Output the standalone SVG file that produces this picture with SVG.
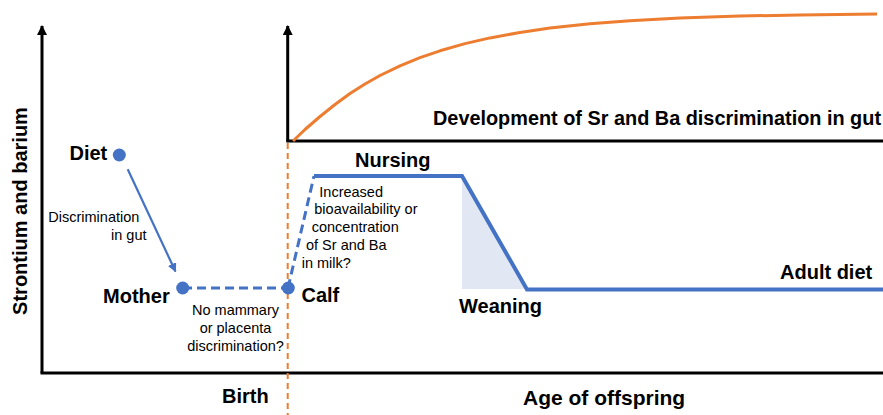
<svg xmlns="http://www.w3.org/2000/svg" width="883" height="415" viewBox="0 0 883 415">
<defs>
<style>
.b{font-family:"Liberation Sans",Arial,sans-serif;font-weight:bold;font-size:20px;fill:#000}
.n{font-family:"Liberation Sans",Arial,sans-serif;font-size:14.5px;fill:#000}
.ax{stroke:#000;stroke-width:3;fill:none}
.blue{stroke:#4472C4;fill:none}
.dot{fill:#4472C4}
</style>
<marker id="ah" viewBox="0 0 10 10" refX="9" refY="5" markerWidth="10" markerHeight="10" markerUnits="userSpaceOnUse" orient="auto">
<path d="M0,0 L10,5 L0,10 z" fill="#000"/>
</marker>
<marker id="bh" viewBox="0 0 10 10" refX="9" refY="5" markerWidth="9" markerHeight="9" markerUnits="userSpaceOnUse" orient="auto">
<path d="M0,0 L10,5 L0,10 z" fill="#4472C4"/>
</marker>
</defs>
<rect width="883" height="415" fill="#fff"/>

<g id="axes">
<path class="ax" d="M42,373 L42,26" marker-end="url(#ah)"/>
<path class="ax" d="M40.5,373 L883,373"/>
<path class="ax" d="M287.7,141 L287.7,26" marker-end="url(#ah)"/>
<path class="ax" d="M286.2,141 L883,141"/>
<text class="b" transform="translate(27,211) rotate(-90)" text-anchor="middle">Strontium and barium</text>
<text class="b" x="222" y="403">Birth</text>
<text class="b" x="523" y="405" style="font-size:21px">Age of offspring</text>
</g>

<g id="gut-development">
<path d="M293,141 L305,129.5 L320,116.5 L335,104.5 L350,93.5 L365,84 L380,75.5 L400,65.8 L420,57.6 L440,50.8 L465,43.6 L490,37.9 L520,32.4 L550,28 L590,23.8 L630,20.7 L680,18.1 L740,16.1 L800,14.9 L877,14" fill="none" stroke="#ED7D31" stroke-width="3" stroke-linejoin="round"/>
<text class="b" x="433" y="125" textLength="448" lengthAdjust="spacingAndGlyphs">Development of Sr and Ba discrimination in gut</text>
</g>

<g id="birth-line">
<path d="M287.7,143 L287.7,415" stroke="#ED7D31" stroke-width="2" stroke-dasharray="6 4" fill="none"/>
</g>

<g id="weaning-area">
<polygon points="462,177 527,289 462,289" fill="#E1E8F4"/>
</g>

<g id="connectors">
<path class="blue" d="M127.7,169.3 L175.5,271.5" stroke-width="2.2" marker-end="url(#bh)"/>
<path class="blue" d="M183,288 L288,288" stroke-width="3" stroke-dasharray="9 5"/>
<path class="blue" d="M288,288 L314,176" stroke-width="3" stroke-dasharray="9 5"/>
<path class="blue" d="M314,176 L462,176 L527,289.5 L883,289.5" stroke-width="4" stroke-linejoin="miter"/>
</g>

<g id="diet">
<circle class="dot" cx="119.3" cy="155" r="6.5"/>
<text class="b" x="69.5" y="160">Diet</text>
<text class="n" x="48.3" y="221.7">Discrimination</text>
<text class="n" x="111" y="240">in gut</text>
</g>

<g id="mother">
<circle class="dot" cx="182.7" cy="288" r="6.5"/>
<text class="b" x="103" y="303">Mother</text>
<text class="n" text-anchor="middle" x="235.5" y="315">No mammary</text>
<text class="n" text-anchor="middle" x="235.5" y="333">or placenta</text>
<text class="n" text-anchor="middle" x="235.5" y="350.5">discrimination?</text>
</g>

<g id="calf">
<circle class="dot" cx="288.3" cy="288" r="6.5"/>
<text class="b" x="301.5" y="302">Calf</text>
</g>

<g id="nursing">
<text class="b" x="355" y="167">Nursing</text>
<text class="n" x="319.3" y="196.7">Increased</text>
<text class="n" x="314.3" y="214">bioavailability or</text>
<text class="n" x="311.7" y="231.7">concentration</text>
<text class="n" x="306" y="250">of Sr and Ba</text>
<text class="n" x="301.7" y="268.3">in milk?</text>
</g>

<g id="weaning">
<text class="b" x="459" y="313">Weaning</text>
</g>

<g id="adult-diet">
<text class="b" x="780" y="279">Adult diet</text>
</g>
</svg>
